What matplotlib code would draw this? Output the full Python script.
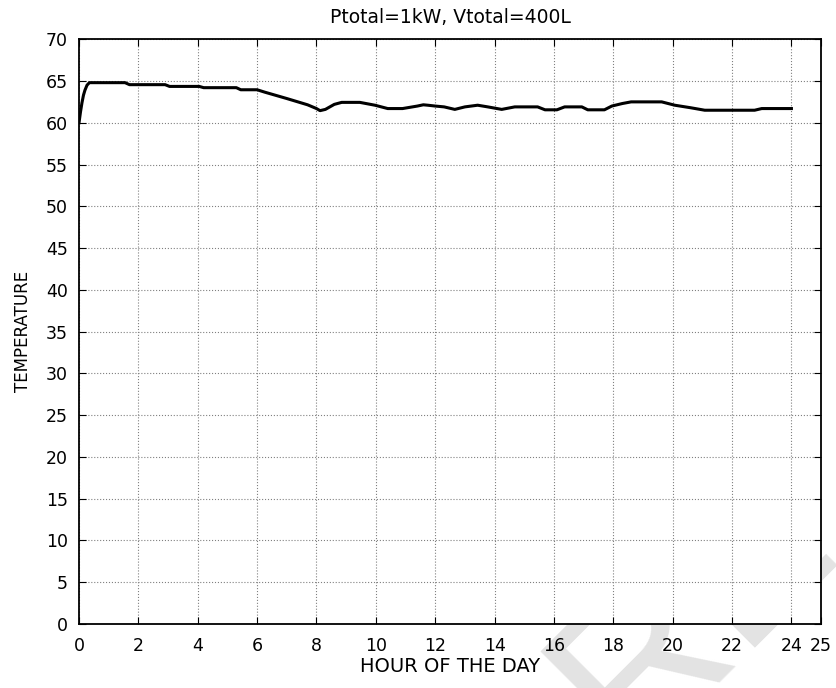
import matplotlib
matplotlib.use("Agg")
import matplotlib.pyplot as plt

plt.rcParams['font.family'] = ['DejaVu Sans']

# temperature over the day
hours = [0.0, 0.05, 0.1, 0.15, 0.2, 0.27, 0.35, 1.55, 1.7, 2.9, 3.05, 4.05, 4.2,
         5.3, 5.45, 6.0, 6.26, 7.0, 7.7, 8.0, 8.12, 8.3, 8.6, 8.85, 9.46, 9.97,
         10.4, 10.9, 11.4, 11.6, 11.75, 12.0, 12.3, 12.66, 13.0, 13.43, 13.77,
         14.24, 14.68, 15.45, 15.7, 16.1, 16.36, 16.94, 17.14, 17.7, 17.95,
         18.3, 18.6, 19.63, 20.07, 20.6, 21.08, 22.76, 23.0, 24.0]
temps = [60.0, 61.3, 62.4, 63.3, 63.9, 64.5, 64.8, 64.8, 64.56, 64.56, 64.35,
         64.35, 64.2, 64.2, 63.95, 63.95, 63.66, 62.9, 62.15, 61.7, 61.45,
         61.6, 62.2, 62.44, 62.44, 62.1, 61.7, 61.7, 62.0, 62.15, 62.1, 62.0,
         61.9, 61.6, 61.9, 62.1, 61.9, 61.6, 61.9, 61.9, 61.55, 61.55, 61.9,
         61.9, 61.55, 61.55, 62.0, 62.3, 62.5, 62.5, 62.1, 61.8, 61.5, 61.5,
         61.7, 61.7]

x_ticks = [0, 2, 4, 6, 8, 10, 12, 14, 16, 18, 20, 22, 24, 25]
y_ticks = list(range(0, 75, 5))

fig = plt.figure(figsize=(8.37, 6.88), dpi=100)
ax = fig.add_axes([0.0944, 0.093, 0.8866, 0.85])

# faint watermark, hidden behind the axes area
fig.text(0.83, 0.11, "RE", fontsize=155, color='#e3e3e3', rotation=45,
         ha='center', va='center', zorder=-1, family='Liberation Sans')

ax.plot(hours, temps, color='black', linewidth=2.2)

ax.set_xlim(0, 25)
ax.set_ylim(0, 70)
ax.set_xticks(x_ticks)
ax.set_yticks(y_ticks)
ax.tick_params(direction='in', top=True, right=True, length=5, labelsize=12.5)
ax.tick_params(axis='x', pad=9)
ax.tick_params(axis='y', pad=8)
ax.grid(True, linestyle=':', color='#808080', linewidth=0.8)
for sp in ax.spines.values():
    sp.set_linewidth(1.3)

ax.set_title("Ptotal=1kW, Vtotal=400L", fontsize=13.5, pad=12)
ax.set_xlabel("HOUR OF THE DAY", fontsize=14, labelpad=2)
ax.set_ylabel("TEMPERATURE", fontsize=12, labelpad=10)

fig.savefig("out.png", dpi=100)
